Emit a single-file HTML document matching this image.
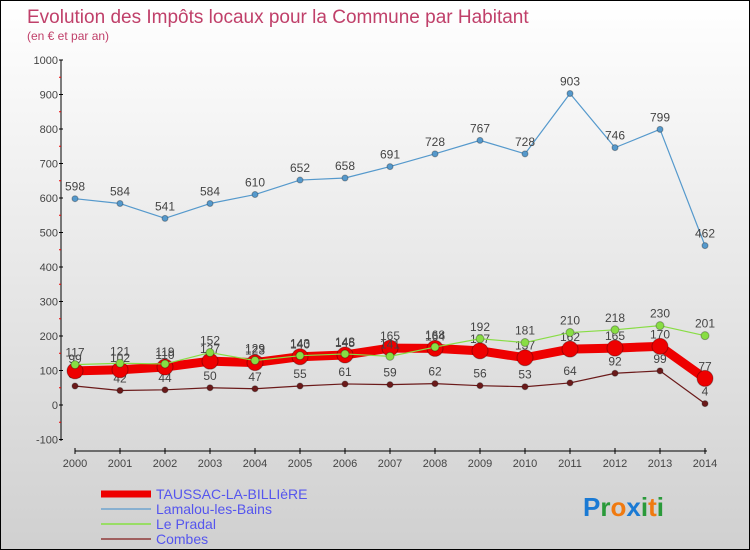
<!DOCTYPE html>
<html><head><meta charset="utf-8"><style>
body{margin:0;}
#c{width:748px;height:548px;border:1px solid #000;background:linear-gradient(#fff,#d0d0d0);position:relative;font-family:"Liberation Sans",sans-serif;overflow:hidden}
</style></head><body>
<div id="c">
<svg id="s" width="748" height="548"></svg>
</div>
<script>
const years=[2000,2001,2002,2003,2004,2005,2006,2007,2008,2009,2010,2011,2012,2013,2014];
const yTicks=[1000,900,800,700,600,500,400,300,200,100,0,-100];
const taussac=[99,102,110,127,123,140,145,165,164,157,137,162,165,170,77];
const lamalou=[598,584,541,584,610,652,658,691,728,767,728,903,746,799,462];
const pradal=[117,121,119,152,129,143,148,141,168,192,181,210,218,230,201];
const combes=[55,42,44,50,47,55,61,59,62,56,53,64,92,99,4];
const NS="http://www.w3.org/2000/svg",s=document.getElementById('s');
const X=i=>74+i*45, Y=v=>404-v*0.345;
function el(t,a,p){const e=document.createElementNS(NS,t);for(const k in a)e.setAttribute(k,a[k]);(p||s).appendChild(e);return e;}
let t=el('text',{x:26,y:22,'font-size':19,fill:'#c0406a'});t.textContent='Evolution des Impôts locaux pour la Commune par Habitant';

t=el('text',{x:26,y:39,'font-size':12,fill:'#c0406a'});t.textContent='(en € et par an)';

let a=el('line',{x1:60,y1:59,x2:60,y2:440,stroke:'#000'});

yTicks.forEach(v=>{el('line',{x1:58,x2:62,y1:Y(v),y2:Y(v),stroke:'#000'});
 let tt=el('text',{x:57,y:Y(v)+4,'font-size':11,fill:'#444','text-anchor':'end'});tt.textContent=v;
 
 if(v>-100)el('line',{x1:58,x2:60,y1:Y(v-50),y2:Y(v-50),stroke:'#e00'});});
a=el('line',{x1:74,y1:450,x2:706,y2:450,stroke:'#000'});

years.forEach((y,i)=>{el('line',{x1:X(i),x2:X(i),y1:447,y2:453,stroke:'#000'});
 let tt=el('text',{x:X(i),y:466,'font-size':11,fill:'#444','text-anchor':'middle'});tt.textContent=y;
 });
function series(d,col,w,r,name,lab){
 const g=el('g',{});
 el('polyline',{points:d.map((v,i)=>X(i)+','+Y(v)).join(' '),fill:'none',stroke:col,'stroke-width':w,'stroke-linejoin':'round'},g);
 d.forEach((v,i)=>{const c=el('circle',{cx:X(i),cy:Y(v),r:r,fill:col,stroke:'rgba(0,0,0,0.3)','stroke-width':1},g);
  
  const tt=el('text',{x:X(i),y:Y(v)+(lab>0?16:-8),'font-size':12,fill:'#444','text-anchor':'middle'},g);tt.textContent=v;});
}
series(lamalou,'#5599cc',1.2,3,'lamalou',-1);
series(combes,'#6b1a1a',1.2,3,'combes',-1);
series(taussac,'#ee0000',9,8,'taussac',-1);
series(pradal,'#88dd44',1.2,4,'pradal',-1);
const leg=[['TAUSSAC-LA-BILLIèRE','#ee0000',7],['Lamalou-les-Bains','#88b0d0',2],['Le Pradal','#99dd66',2],['Combes','#a06060',2]];
leg.forEach((l,i)=>{const g=el('g',{});
 el('line',{x1:100,x2:150,y1:493+i*15,y2:493+i*15,stroke:l[1],'stroke-width':l[2]},g);
 const tt=el('text',{x:155,y:498+i*15,'font-size':14,fill:'#5555ee'},g);tt.textContent=l[0];});
const lg=el('text',{x:582,y:515,'font-size':26,'font-weight':'bold'});

[['P','#1a7ad4'],['r','#2a9a3a'],['o','#f07a10'],['x','#1a7ad4'],['i','#2a9a3a'],['t','#f07a10'],['i','#2a9a3a']].forEach(c=>{const sp=el('tspan',{fill:c[1]},lg);sp.textContent=c[0];});
</script>
</body></html>
